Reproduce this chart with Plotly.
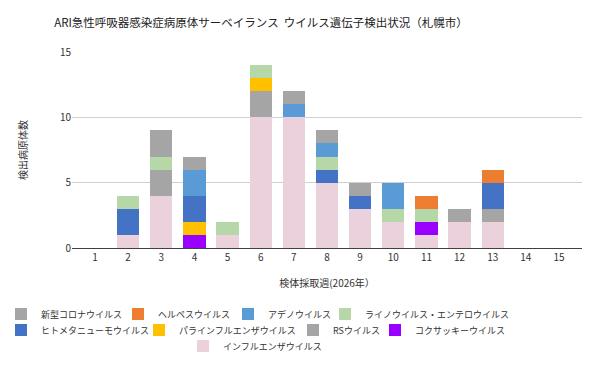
import plotly.graph_objects as go

weeks = list(range(1, 16))
week_labels = [str(w) for w in weeks]

# series values per week (1..15)
influenza = [0, 1, 4, 0, 1, 10, 10, 5, 3, 2, 1, 2, 2, 0, 0]
coxsackie = [0, 0, 0, 1, 0, 0, 0, 0, 0, 0, 1, 0, 0, 0, 0]
rs = [0, 0, 2, 0, 0, 2, 0, 0, 0, 0, 0, 0, 1, 0, 0]
parainfluenza = [0, 0, 0, 1, 0, 1, 0, 0, 0, 0, 0, 0, 0, 0, 0]
hmpv = [0, 2, 0, 2, 0, 0, 0, 1, 1, 0, 0, 0, 2, 0, 0]
rhino_entero = [0, 1, 1, 0, 1, 1, 0, 1, 0, 1, 1, 0, 0, 0, 0]
adeno = [0, 0, 0, 2, 0, 0, 1, 1, 0, 2, 0, 0, 0, 0, 0]
herpes = [0, 0, 0, 0, 0, 0, 0, 0, 0, 0, 1, 0, 1, 0, 0]
covid = [0, 0, 2, 1, 0, 0, 1, 1, 1, 0, 0, 1, 0, 0, 0]

FONT = "Noto Sans CJK JP"
W, H = 600, 371
OFF = 8  # page body offset of the rendered figure

# (name, values, color, legend id, legend text-start x, legend row y) in screen pixels
# listed bottom -> top of the stack
series = [
    ("インフルエンザウイルス", influenza, "#EAD1DC", "legend9", 220, 346),
    ("コクサッキーウイルス", coxsackie, "#9900FF", "legend8", 412, 330),
    ("RSウイルス", rs, "#A5A5A5", "legend7", 330, 330),
    ("パラインフルエンザウイルス", parainfluenza, "#FFC000", "legend6", 176, 330),
    ("ヒトメタニューモウイルス", hmpv, "#4472C4", "legend5", 38, 330),
    ("ライノウイルス・エンテロウイルス", rhino_entero, "#B6D7A8", "legend4", 362, 314),
    ("アデノウイルス", adeno, "#5B9BD5", "legend3", 265, 314),
    ("ヘルペスウイルス", herpes, "#ED7D31", "legend2", 155, 314),
    ("新型コロナウイルス", covid, "#A5A5A5", "legend", 38, 314),
]

# plot area on screen: x 72..582, y 52..248
L, T = 72 - OFF, 52 - OFF
R = W - (582 - OFF)
B = H - (248 - OFF)
PW = W - L - R
PH = H - T - B

fig = go.Figure()
legend_layouts = {}
for name, vals, color, leg, tx, ty in series:
    fig.add_trace(go.Bar(
        x=weeks, y=vals, name=name, marker_color=color,
        marker_line_width=0, width=0.67, legend=leg, showlegend=True,
    ))
    legend_layouts[leg] = dict(
        orientation="h", xref="paper", yref="paper",
        x=(tx - 37 - OFF - L) / PW, y=(H - B - (ty - OFF)) / PH,
        xanchor="left", yanchor="middle",
        font=dict(family=FONT, size=9, color="#333333"),
        bgcolor="rgba(0,0,0,0)", itemwidth=30, visible=True,
    )

fig.update_layout(
    width=W, height=H,
    showlegend=True,
    margin=dict(l=L, r=R, t=T, b=B, pad=0, autoexpand=False),
    paper_bgcolor="white", plot_bgcolor="white",
    barmode="stack",
    font=dict(family=FONT, size=10, color="#333333"),
    title=dict(
        text="ARI急性呼吸器感染症病原体サーベイランス  ウイルス遺伝子検出状況（札幌市）",
        font=dict(family=FONT, size=11.5, color="#222222"),
        x=(261 - OFF) / W, xanchor="center", xref="container",
        y=1 - (23 - OFF) / H, yanchor="middle", yref="container",
    ),
    xaxis=dict(
        range=[0.306, 15.694], tickmode="array", tickvals=weeks, ticktext=week_labels,
        showgrid=False, showline=True, linecolor="#404040", linewidth=1,
        ticks="", tickfont=dict(family=FONT, size=10, color="#333333"),
        title=dict(text="検体採取週(2026年）", font=dict(family=FONT, size=10, color="#333333"), standoff=16),
        zeroline=False, fixedrange=True,
    ),
    yaxis=dict(
        range=[0, 15], dtick=5, showgrid=True, gridcolor="#D0D0D0", gridwidth=1,
        zeroline=False, showline=False, ticks="",
        tickfont=dict(family=FONT, size=10, color="#333333"),
        title=dict(text="検出病原体数", font=dict(family=FONT, size=10, color="#333333"), standoff=30),
    ),
    **legend_layouts,
)

fig.write_html("out.html")
